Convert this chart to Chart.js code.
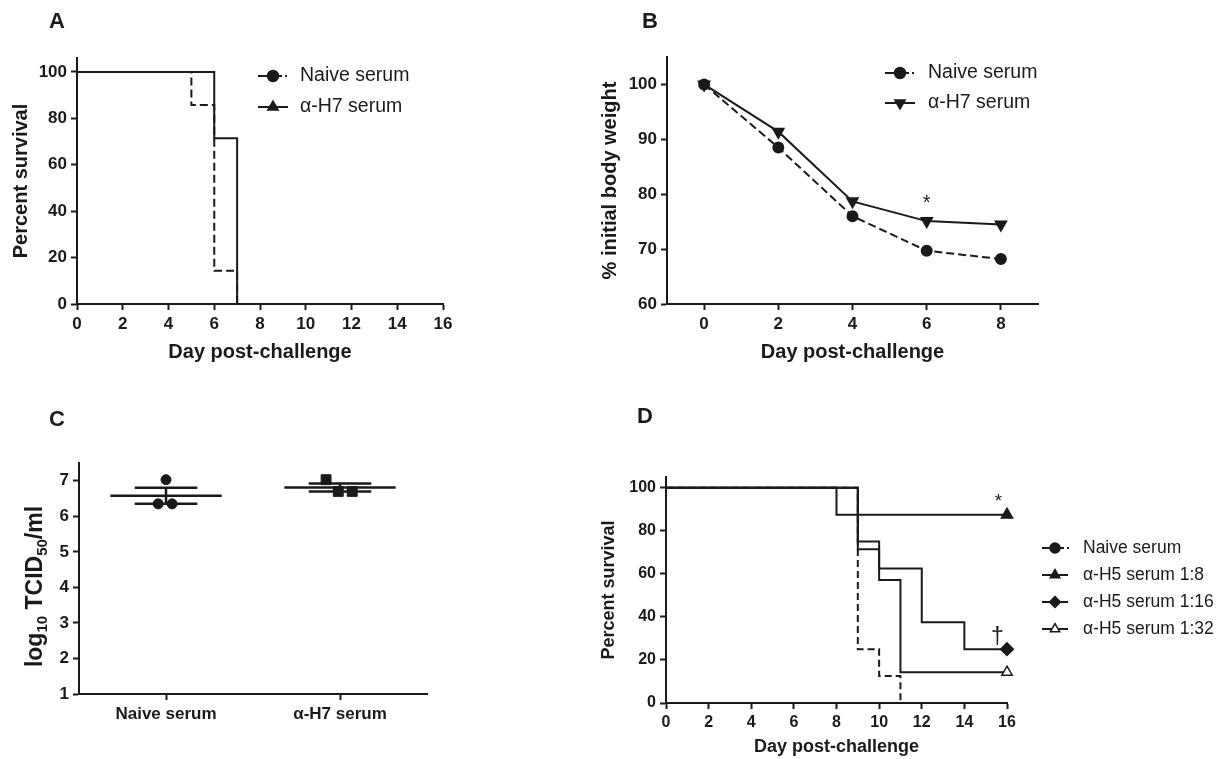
<!DOCTYPE html>
<html>
<head>
<meta charset="utf-8">
<script src="https://cdn.jsdelivr.net/npm/chart.js@4.4.0/dist/chart.umd.min.js"></script>
<style>
  body { margin: 0; background: #fff; width: 1222px; height: 759px; position: relative; overflow: hidden; }
  .panel { position: absolute; }
</style>
</head>
<body>
<div class="panel" style="left:0;top:0;width:560px;height:380px"><canvas id="chartA"></canvas></div>
<div class="panel" style="left:580px;top:0;width:540px;height:380px"><canvas id="chartB"></canvas></div>
<div class="panel" style="left:0;top:380px;width:560px;height:379px"><canvas id="chartC"></canvas></div>
<div class="panel" style="left:580px;top:380px;width:642px;height:379px"><canvas id="chartD"></canvas></div>
<script>
// ---- data ----
// A: survival after challenge (%)
const naiveDaysA = [0, 5, 6, 7];
const naiveSurvA = [100, 85.7, 14.3, 0];
const h7DaysA = [0, 6, 7];
const h7SurvA = [100, 71.4, 0];
const dayTicksA = [0, 2, 4, 6, 8, 10, 12, 14, 16];
const survTicks = [0, 20, 40, 60, 80, 100];

// B: % initial body weight
const daysB = [0, 2, 4, 6, 8];
const naiveWeightB = [100, 88.5, 76.0, 69.7, 68.2];
const h7WeightB = [100, 91.4, 78.7, 75.1, 74.5];
const weightTicksB = [60, 70, 80, 90, 100];
const sigB = [{ day: 6, value: 78.3, mark: '*' }];

// C: lung titres, log10 TCID50/ml
const groupsC = ['Naive serum', 'α-H7 serum'];
const naiveTiterC = [7.03, 6.35, 6.35];
const h7TiterC = [7.03, 6.70, 6.70];
const naiveJitterC = [0, -0.045, 0.035];
const h7JitterC = [-0.08, -0.01, 0.07];
const titerTicksC = [1, 2, 3, 4, 5, 6, 7];

// D: survival, H5 challenge (%)
const dayTicksD = [0, 2, 4, 6, 8, 10, 12, 14, 16];
const naiveDaysD = [0, 9, 10, 11];
const naiveSurvD = [100, 25, 12.5, 0];
const h5x8DaysD = [0, 8, 16];
const h5x8SurvD = [100, 87.5, 87.5];
const h5x16DaysD = [0, 9, 10, 12, 14, 16];
const h5x16SurvD = [100, 75, 62.5, 37.5, 25, 25];
const h5x32DaysD = [0, 9, 10, 11, 16];
const h5x32SurvD = [100, 71.4, 57.1, 14.3, 14.3];
const sigD = [{ day: 15.6, value: 93.6, mark: '*' }, { day: 15.55, value: 30.5, mark: '†' }];

// ---- helpers ----
const INK = '#1a1a1a';
const FONT = "'Liberation Sans', Arial, Helvetica, sans-serif";

function pts(xs, ys) { return xs.map((x, i) => ({ x: x, y: ys[i] })); }

function axisBase(ticks, o) {
  const t = { color: INK, font: { family: FONT, size: o.tickSize || 17, weight: 'bold' }, padding: o.tickPad || 4, maxRotation: 0, autoSkip: false };
  if (o.callback) t.callback = o.callback;
  return {
    type: 'linear', min: o.min, max: o.max,
    afterBuildTicks: s => { s.ticks = ticks.map(v => ({ value: v })); },
    ticks: t,
    grid: { drawOnChartArea: false, tickLength: 6, tickWidth: 2, tickColor: INK },
    border: { color: INK, width: 2 },
    title: {
      display: !!o.title, text: o.title || '', color: INK,
      font: { family: FONT, size: o.titleSize || 20, weight: 'bold' },
      padding: o.titlePad || 0
    }
  };
}
function scaleX(ticks, o) {
  const s = axisBase(ticks, o);
  s.afterFit = sc => { sc.height = o.height; };
  return s;
}
function scaleY(ticks, o) {
  const s = axisBase(ticks, o);
  s.afterFit = sc => { sc.width = o.width; };
  return s;
}
function endMarker(r) {
  return c => (c.dataIndex === c.dataset.data.length - 1 ? r : 0);
}
function meanSem(vals, i) {
  const m = vals.reduce((a, b) => a + b, 0) / vals.length;
  const sd = Math.sqrt(vals.reduce((a, b) => a + (b - m) * (b - m), 0) / (vals.length - 1));
  const se = sd / Math.sqrt(vals.length);
  return [
    { x: i - 0.32, y: m }, { x: i + 0.32, y: m }, { x: i, y: null },
    { x: i - 0.18, y: m + se }, { x: i + 0.18, y: m + se }, { x: i, y: null },
    { x: i, y: m + se }, { x: i, y: m - se }, { x: i, y: null },
    { x: i - 0.18, y: m - se }, { x: i + 0.18, y: m - se }
  ];
}

// panel letter, legend, significance marks, custom y title
const decor = {
  id: 'decor',
  afterDraw(chart, args, o) {
    const ctx = chart.ctx;
    ctx.save();
    ctx.fillStyle = INK;
    ctx.strokeStyle = INK;
    if (o.letter) {
      ctx.font = 'bold 22px ' + FONT;
      ctx.textAlign = 'center';
      ctx.textBaseline = 'middle';
      ctx.fillText(o.letter, o.letterX, o.letterY);
    }
    if (o.legend) {
      const lg = o.legend;
      let row = 0;
      chart.data.datasets.forEach(ds => {
        if (!ds.label) return;
        const x = lg.x, y = lg.y + row * lg.dy;
        row++;
        ctx.lineWidth = 2;
        ctx.setLineDash([]);
        ctx.beginPath();
        ctx.moveTo(x - lg.half, y); ctx.lineTo(x, y);
        if (ds.borderDash && ds.borderDash.length) {
          ctx.moveTo(x + 5, y); ctx.lineTo(x + 9, y);
          ctx.moveTo(x + 12, y); ctx.lineTo(x + 14, y);
        } else {
          ctx.lineTo(x + lg.half, y);
        }
        ctx.stroke();
        ctx.fillStyle = ds.pointBackgroundColor || INK;
        ctx.lineWidth = 1.5;
        Chart.helpers.drawPoint(ctx, {
          pointStyle: ds.pointStyle, rotation: ds.pointRotation || 0,
          radius: ds.legendRadius || 5, borderWidth: 1.5
        }, x, y);
        ctx.fillStyle = INK;
        ctx.font = lg.font + ' ' + FONT;
        ctx.textAlign = 'left';
        ctx.textBaseline = 'middle';
        ctx.fillText(ds.label, x + lg.gap, y);
      });
    }
    if (o.notes) {
      ctx.textAlign = 'center';
      ctx.textBaseline = 'middle';
      o.notes.forEach(n => {
        ctx.font = (n.mark === '†' ? '23px' : (o.noteFont || '20px')) + ' ' + FONT;
        ctx.fillText(n.mark, chart.scales.x.getPixelForValue(n.day), chart.scales.y.getPixelForValue(n.value));
      });
    }
    if (o.yTitle) {
      // rotated title with subscripts: [text, subscript?]
      const a = chart.chartArea;
      const parts = o.yTitle;
      const big = 'bold 23px ' + FONT, small = 'bold 15px ' + FONT;
      let total = 0;
      parts.forEach(p => { ctx.font = p[1] ? small : big; total += ctx.measureText(p[0]).width; });
      ctx.translate(o.yTitleX, (a.top + a.bottom) / 2 + (o.yTitleShift || 0));
      ctx.rotate(-Math.PI / 2);
      ctx.textAlign = 'left';
      ctx.textBaseline = 'alphabetic';
      let cx = -total / 2;
      parts.forEach(p => {
        ctx.font = p[1] ? small : big;
        ctx.fillText(p[0], cx, p[1] ? 5 : 0);
        cx += ctx.measureText(p[0]).width;
      });
    }
    ctx.restore();
  }
};
Chart.register(decor);

const base = {
  responsive: true,
  maintainAspectRatio: false,
  animation: false,
  events: []
};

// ---- A ----
new Chart(document.getElementById('chartA'), {
  type: 'line',
  data: {
    datasets: [{
      label: 'Naive serum',
      data: pts(naiveDaysA, naiveSurvA),
      stepped: 'before', borderColor: INK, borderWidth: 2, borderDash: [8, 4],
      pointRadius: 0, pointStyle: 'circle', pointBackgroundColor: INK, legendRadius: 5.5
    }, {
      label: 'α-H7 serum',
      data: pts(h7DaysA, h7SurvA),
      stepped: 'before', borderColor: INK, borderWidth: 2,
      pointRadius: 0, pointStyle: 'triangle', pointBackgroundColor: INK, legendRadius: 6
    }]
  },
  options: Object.assign({}, base, {
    layout: { padding: { left: 0, top: 58, right: 117, bottom: 0 } },
    scales: {
      x: scaleX(dayTicksA, { min: 0, max: 16, height: 76, title: 'Day post-challenge', titlePad: { top: 0, bottom: 16 } }),
      y: scaleY(survTicks, { min: 0, max: 106, width: 77, title: 'Percent survival', titlePad: { top: 9, bottom: 0 } })
    },
    plugins: {
      legend: { display: false }, tooltip: { enabled: false },
      decor: {
        letter: 'A', letterX: 57, letterY: 22,
        legend: { x: 273, y: 76, dy: 31, half: 15, gap: 27, font: '19.5px' }
      }
    }
  })
});

// ---- B ----
new Chart(document.getElementById('chartB'), {
  type: 'line',
  data: {
    datasets: [{
      label: 'Naive serum',
      data: pts(daysB, naiveWeightB),
      borderColor: INK, borderWidth: 2, borderDash: [8, 4],
      pointRadius: 5, pointStyle: 'circle', pointBackgroundColor: INK, pointBorderColor: INK, legendRadius: 5.5
    }, {
      label: 'α-H7 serum',
      data: pts(daysB, h7WeightB),
      borderColor: INK, borderWidth: 2,
      pointRadius: 6, pointStyle: 'triangle', pointRotation: 180, pointBackgroundColor: INK, pointBorderColor: INK, legendRadius: 6
    }]
  },
  options: Object.assign({}, base, {
    layout: { padding: { left: 0, top: 57, right: 82, bottom: 0 } },
    scales: {
      x: scaleX(daysB, { min: -1, max: 9, height: 76, title: 'Day post-challenge', titlePad: { top: 0, bottom: 16 } }),
      y: scaleY(weightTicksB, { min: 60, max: 105, width: 87, title: '% initial body weight', titlePad: { top: 18, bottom: 0 } })
    },
    plugins: {
      legend: { display: false }, tooltip: { enabled: false },
      decor: {
        letter: 'B', letterX: 70, letterY: 22,
        legend: { x: 320, y: 73, dy: 30, half: 15, gap: 28, font: '19.5px' },
        notes: sigB
      }
    }
  })
});

// ---- C ----
new Chart(document.getElementById('chartC'), {
  type: 'scatter',
  data: {
    datasets: [{
      data: naiveTiterC.map((v, i) => ({ x: 0 + naiveJitterC[i], y: v })),
      pointRadius: 5, pointStyle: 'circle', pointBackgroundColor: INK, pointBorderColor: INK
    }, {
      data: h7TiterC.map((v, i) => ({ x: 1 + h7JitterC[i], y: v })),
      pointRadius: 7, pointStyle: 'rect', pointBackgroundColor: INK, pointBorderColor: INK
    }, {
      data: meanSem(naiveTiterC, 0),
      showLine: true, spanGaps: false, borderColor: INK, borderWidth: 2.5, pointRadius: 0
    }, {
      data: meanSem(h7TiterC, 1),
      showLine: true, spanGaps: false, borderColor: INK, borderWidth: 2.5, pointRadius: 0
    }]
  },
  options: Object.assign({}, base, {
    layout: { padding: { left: 0, top: 83, right: 133, bottom: 0 } },
    scales: {
      x: scaleX([0, 1], { min: -0.5, max: 1.5, height: 65, callback: v => groupsC[v] }),
      y: scaleY(titerTicksC, { min: 1, max: 7.5, width: 79 })
    },
    plugins: {
      legend: { display: false }, tooltip: { enabled: false },
      decor: {
        letter: 'C', letterX: 57, letterY: 40,
        yTitle: [['log', 0], ['10', 1], [' TCID', 0], ['50', 1], ['/ml', 0]],
        yTitleX: 42, yTitleShift: 8
      }
    }
  })
});

// ---- D ----
new Chart(document.getElementById('chartD'), {
  type: 'line',
  data: {
    datasets: [{
      label: 'Naive serum',
      data: pts(naiveDaysD, naiveSurvD),
      stepped: 'before', borderColor: INK, borderWidth: 2, borderDash: [7, 4], clip: false,
      pointRadius: 0, pointStyle: 'circle', pointBackgroundColor: INK, legendRadius: 5
    }, {
      label: 'α-H5 serum 1:8',
      data: pts(h5x8DaysD, h5x8SurvD),
      stepped: 'before', borderColor: INK, borderWidth: 2, clip: false,
      pointRadius: endMarker(6), pointStyle: 'triangle', pointBackgroundColor: INK, pointBorderColor: INK, legendRadius: 5.5
    }, {
      label: 'α-H5 serum 1:16',
      data: pts(h5x16DaysD, h5x16SurvD),
      stepped: 'before', borderColor: INK, borderWidth: 2, clip: false,
      pointRadius: endMarker(6), pointStyle: 'rectRot', pointBackgroundColor: INK, pointBorderColor: INK, legendRadius: 5.5
    }, {
      label: 'α-H5 serum 1:32',
      data: pts(h5x32DaysD, h5x32SurvD),
      stepped: 'before', borderColor: INK, borderWidth: 2, clip: false,
      pointRadius: endMarker(6), pointBorderWidth: 1.5, pointStyle: 'triangle', pointBackgroundColor: '#fff', pointBorderColor: INK, legendRadius: 5.5
    }]
  },
  options: Object.assign({}, base, {
    layout: { padding: { left: 0, top: 97, right: 215, bottom: 0 } },
    scales: {
      x: scaleX(dayTicksD, { min: 0, max: 16, height: 56, tickSize: 16, titleSize: 18, title: 'Day post-challenge', titlePad: { top: 0, bottom: 1 } }),
      y: scaleY(survTicks, { min: 0, max: 105, width: 86, tickSize: 16, titleSize: 18, title: 'Percent survival', titlePad: { top: 18, bottom: 0 } })
    },
    plugins: {
      legend: { display: false }, tooltip: { enabled: false },
      decor: {
        letter: 'D', letterX: 65, letterY: 37,
        legend: { x: 475, y: 168, dy: 27, half: 13, gap: 28, font: '17.5px' },
        notes: sigD, noteFont: '19px'
      }
    }
  })
});
</script>
</body>
</html>
